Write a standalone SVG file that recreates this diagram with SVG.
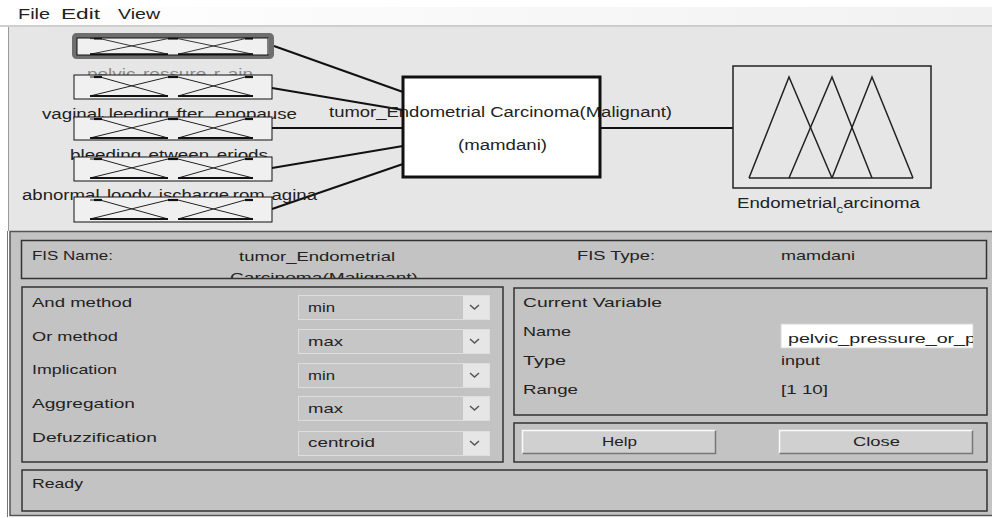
<svg xmlns="http://www.w3.org/2000/svg" width="992" height="518" viewBox="0 0 992 518">
<style>
.t{font-family:"Liberation Sans",Arial,sans-serif;fill:#222}
.s14{font-size:14px}
.s13{font-size:13px}
.ibox{fill:#f0f0f0;stroke:#111;stroke-width:1}
.mf{fill:none;stroke:#222;stroke-width:1}
.mft{fill:none;stroke:#111;stroke-width:2.2}
.conn{fill:none;stroke:#111;stroke-width:2}
.panel{fill:none;stroke:#333;stroke-width:1.5}
.dd{fill:#c6c6c6;stroke:#dedede;stroke-width:1}
.ddb{fill:#e6e6e6;stroke:none}
.chev{fill:none;stroke:#555;stroke-width:1.5}
.btn{fill:#d0d0d0}
.hi{fill:none;stroke:#fafafa;stroke-width:1.5}
.sh{fill:none;stroke:#777;stroke-width:1.5}
</style>
<defs>
<linearGradient id="menuG" x1="0" y1="0" x2="1" y2="0">
<stop offset="0" stop-color="#ffffff"/>
<stop offset="1" stop-color="#f1f1f1"/>
</linearGradient>
<clipPath id="fisClip"><rect x="22" y="241" width="964" height="37"/></clipPath>
<clipPath id="nameClip"><rect x="781" y="324" width="192" height="24"/></clipPath>
<clipPath id="topClip"><rect x="8" y="27" width="984" height="204"/></clipPath>
<g id="mfIcon">
<polyline class="mf" points="16,2 26,2 94,21"/>
<polyline class="mf" points="16,21 94,2 104,2 179,21"/>
<polyline class="mf" points="104,21 171,2 179,2"/>
<line class="mft" x1="20" y1="2" x2="28" y2="2"/>
<line class="mft" x1="94" y1="2" x2="104" y2="2"/>
<line class="mft" x1="171" y1="2" x2="179" y2="2"/>
<line class="mft" x1="16" y1="21" x2="94" y2="21"/>
<line class="mft" x1="104" y1="21" x2="179" y2="21"/>
</g>
</defs>

<!-- window background -->
<rect x="0" y="0" width="992" height="518" fill="#ffffff"/>
<rect x="0" y="7" width="992" height="19" fill="url(#menuG)"/>
<line x1="0" y1="26" x2="992" y2="26" stroke="#a0a0a0" stroke-width="1"/>
<text class="t s14" y="19"><tspan x="18" textLength="32" lengthAdjust="spacingAndGlyphs">File</tspan><tspan x="61" textLength="39" lengthAdjust="spacingAndGlyphs">Edit</tspan><tspan x="118" textLength="42" lengthAdjust="spacingAndGlyphs">View</tspan></text>
<rect x="8" y="27" width="984" height="204" fill="#e6e6e6"/>
<line x1="8.5" y1="27" x2="8.5" y2="231" stroke="#9a9a9a" stroke-width="1"/>

<g clip-path="url(#topClip)">
<!-- connectors -->
<g id="connectors">
<line class="conn" x1="274" y1="46" x2="403" y2="92"/>
<line class="conn" x1="272" y1="88" x2="403" y2="110"/>
<line class="conn" x1="272" y1="128" x2="403" y2="128"/>
<line class="conn" x1="272" y1="168" x2="403" y2="146"/>
<line class="conn" x1="272" y1="209" x2="403" y2="164"/>
<line class="conn" x1="600" y1="128" x2="733" y2="128"/>
</g>

<g id="input1">
<rect x="74.5" y="35.5" width="197" height="21" fill="none" stroke="#6e6e6e" stroke-width="5" rx="2"/>
<rect class="ibox" x="77" y="38" width="191" height="17"/>
<use href="#mfIcon" transform="translate(74,37) scale(1,0.82)"/>
<text class="t s14" x="87" y="79" fill="#888" style="fill:#8a8a8a" textLength="166" lengthAdjust="spacingAndGlyphs">pelvic<tspan font-size="10" dy="5">p</tspan><tspan dy="-5">ressure</tspan><tspan font-size="10" dy="5">o</tspan><tspan dy="-5">r</tspan><tspan font-size="10" dy="5">p</tspan><tspan dy="-5">ain</tspan></text>
</g>
<g id="input2">
<rect class="ibox" x="74" y="75" width="198" height="24"/>
<use href="#mfIcon" transform="translate(74,75)"/>
<text class="t s14" x="42" y="119" textLength="255" lengthAdjust="spacingAndGlyphs">vaginal<tspan font-size="10" dy="5">b</tspan><tspan dy="-5">leeding</tspan><tspan font-size="10" dy="5">a</tspan><tspan dy="-5">fter</tspan><tspan font-size="10" dy="5">m</tspan><tspan dy="-5">enopause</tspan></text>
</g>
<g id="input3">
<rect class="ibox" x="74" y="117" width="198" height="23"/>
<use href="#mfIcon" transform="translate(74,117)"/>
<text class="t s14" x="70" y="160" textLength="198" lengthAdjust="spacingAndGlyphs">bleeding<tspan font-size="10" dy="5">b</tspan><tspan dy="-5">etween</tspan><tspan font-size="10" dy="5">p</tspan><tspan dy="-5">eriods</tspan></text>
</g>
<g id="input4">
<rect class="ibox" x="74" y="157" width="198" height="24"/>
<use href="#mfIcon" transform="translate(74,157)"/>
<text class="t s14" x="22" y="200" textLength="295" lengthAdjust="spacingAndGlyphs">abnormal<tspan font-size="10" dy="5">b</tspan><tspan dy="-5">loody</tspan><tspan font-size="10" dy="5">d</tspan><tspan dy="-5">ischarge</tspan><tspan font-size="10" dy="5">f</tspan><tspan dy="-5">rom</tspan><tspan font-size="10" dy="5">v</tspan><tspan dy="-5">agina</tspan></text>
</g>
<g id="input5">
<rect class="ibox" x="74" y="197" width="198" height="25"/>
<use href="#mfIcon" transform="translate(74,198)"/>
</g>

<g id="fis">
<rect x="403" y="77" width="197" height="100" fill="#ffffff"/>
<text class="t s14" x="329" y="117" textLength="343" lengthAdjust="spacingAndGlyphs">tumor_Endometrial Carcinoma(Malignant)</text>
<text class="t s14" x="458" y="150" textLength="89" lengthAdjust="spacingAndGlyphs">(mamdani)</text>
<rect x="403" y="77" width="197" height="100" fill="none" stroke="#111" stroke-width="3"/>
</g>

<g id="output">
<rect x="733" y="66" width="198" height="122" fill="none" stroke="#222" stroke-width="1.5"/>
<g fill="none" stroke="#222" stroke-width="1.5">
<polyline points="749,178 789,77 832,178"/>
<polyline points="789,178 832,77 872,178"/>
<polyline points="832,178 872,77 913,178"/>
<line x1="749" y1="178" x2="913" y2="178"/>
</g>
<text class="t s14" x="737" y="208" textLength="183" lengthAdjust="spacingAndGlyphs">Endometrial<tspan font-size="10" dy="5">c</tspan><tspan dy="-5">arcinoma</tspan></text>
</g>
</g>

<!-- lower control area -->
<rect x="10" y="231.5" width="990" height="284" fill="#c3c3c3" stroke="#555" stroke-width="1.5"/>
<line x1="7.5" y1="231" x2="7.5" y2="517" stroke="#777" stroke-width="1"/>

<g id="fisNamePanel">
<rect class="panel" x="21.5" y="240.5" width="965" height="38"/>
<text class="t s13" x="32" y="260" textLength="81" lengthAdjust="spacingAndGlyphs">FIS Name:</text>
<g clip-path="url(#fisClip)">
<text class="t s13" x="239" y="261" textLength="156" lengthAdjust="spacingAndGlyphs">tumor_Endometrial</text>
<text class="t s13" x="230" y="282" textLength="188" lengthAdjust="spacingAndGlyphs">Carcinoma(Malignant)</text>
</g>
<text class="t s13" x="577" y="260" textLength="78" lengthAdjust="spacingAndGlyphs">FIS Type:</text>
<text class="t s13" x="781" y="260" textLength="74" lengthAdjust="spacingAndGlyphs">mamdani</text>
</g>

<g id="methodsPanel">
<rect class="panel" x="22" y="287" width="481" height="175"/>
<text class="t s13" x="32" y="307" textLength="100" lengthAdjust="spacingAndGlyphs">And method</text>
<text class="t s13" x="32" y="341" textLength="86" lengthAdjust="spacingAndGlyphs">Or method</text>
<text class="t s13" x="32" y="374" textLength="85" lengthAdjust="spacingAndGlyphs">Implication</text>
<text class="t s13" x="32" y="408" textLength="103" lengthAdjust="spacingAndGlyphs">Aggregation</text>
<text class="t s13" x="32" y="442" textLength="125" lengthAdjust="spacingAndGlyphs">Defuzzification</text>

<rect class="dd" x="298.5" y="295.5" width="191" height="24"/>
<rect class="ddb" x="463" y="296" width="26" height="23"/>
<polyline class="chev" points="470,305 474.5,309 479,305"/>
<text class="t s13" x="308" y="312" textLength="27" lengthAdjust="spacingAndGlyphs">min</text>

<rect class="dd" x="298.5" y="329.5" width="191" height="24"/>
<rect class="ddb" x="463" y="330" width="26" height="23"/>
<polyline class="chev" points="470,339 474.5,343 479,339"/>
<text class="t s13" x="308" y="346" textLength="35" lengthAdjust="spacingAndGlyphs">max</text>

<rect class="dd" x="298.5" y="363.5" width="191" height="24"/>
<rect class="ddb" x="463" y="364" width="26" height="23"/>
<polyline class="chev" points="470,373 474.5,377 479,373"/>
<text class="t s13" x="308" y="380" textLength="27" lengthAdjust="spacingAndGlyphs">min</text>

<rect class="dd" x="298.5" y="396.5" width="191" height="24"/>
<rect class="ddb" x="463" y="397" width="26" height="23"/>
<polyline class="chev" points="470,406 474.5,410 479,406"/>
<text class="t s13" x="308" y="413" textLength="35" lengthAdjust="spacingAndGlyphs">max</text>

<rect class="dd" x="298.5" y="431.5" width="191" height="24"/>
<rect class="ddb" x="463" y="432" width="26" height="23"/>
<polyline class="chev" points="470,441 474.5,445 479,441"/>
<text class="t s13" x="308" y="447" textLength="67" lengthAdjust="spacingAndGlyphs">centroid</text>
</g>

<g id="variablePanel">
<rect class="panel" x="514" y="288" width="473" height="127"/>
<text class="t s13" x="523" y="307" textLength="139" lengthAdjust="spacingAndGlyphs">Current Variable</text>
<text class="t s13" x="523" y="336" textLength="48" lengthAdjust="spacingAndGlyphs">Name</text>
<rect x="781" y="324" width="192" height="24" fill="#ffffff" stroke="#d8d8d8" stroke-width="1"/>
<g clip-path="url(#nameClip)">
<text class="t s13" x="788" y="343" textLength="188" lengthAdjust="spacingAndGlyphs">pelvic_pressure_or_p</text>
</g>
<text class="t s13" x="523" y="365" textLength="43" lengthAdjust="spacingAndGlyphs">Type</text>
<text class="t s13" x="781" y="365" textLength="39" lengthAdjust="spacingAndGlyphs">input</text>
<text class="t s13" x="523" y="394" textLength="55" lengthAdjust="spacingAndGlyphs">Range</text>
<text class="t s13" x="781" y="394" textLength="47" lengthAdjust="spacingAndGlyphs">[1 10]</text>
</g>

<g id="buttonsPanel">
<rect class="panel" x="514" y="423" width="473" height="39"/>
<rect class="btn" x="522" y="430" width="194" height="24"/>
<polyline class="hi" points="522.5,454 522.5,430.5 716,430.5"/>
<polyline class="sh" points="522.5,453.5 715.5,453.5 715.5,430.5"/>
<text class="t s13" x="602" y="446" textLength="35" lengthAdjust="spacingAndGlyphs">Help</text>
<rect class="btn" x="779" y="430" width="194" height="24"/>
<polyline class="hi" points="779.5,454 779.5,430.5 973,430.5"/>
<polyline class="sh" points="779.5,453.5 972.5,453.5 972.5,430.5"/>
<text class="t s13" x="853" y="446" textLength="47" lengthAdjust="spacingAndGlyphs">Close</text>
</g>

<g id="statusPanel">
<rect class="panel" x="22" y="470" width="965" height="41"/>
<text class="t s13" x="32" y="488" textLength="51" lengthAdjust="spacingAndGlyphs">Ready</text>
</g>
</svg>
